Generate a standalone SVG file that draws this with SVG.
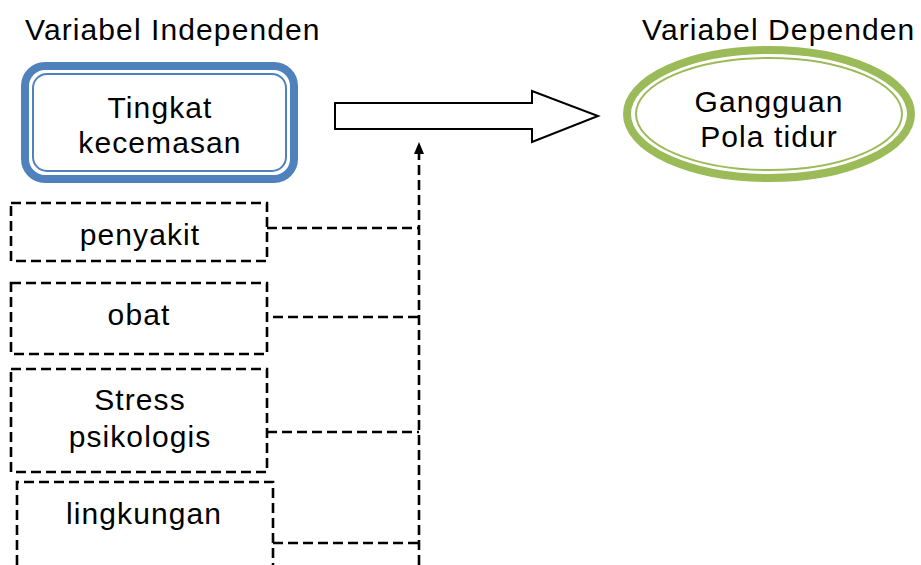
<svg xmlns="http://www.w3.org/2000/svg" width="921" height="565" viewBox="0 0 921 565">
<defs>
<style>
text{font-family:"Liberation Sans",Arial,sans-serif;font-size:30px;letter-spacing:1.1px;fill:#000;text-anchor:middle}
.title{text-anchor:start}
.dash{fill:none;stroke:#000;stroke-width:2.6;stroke-dasharray:10,5}
</style>
</defs>
<rect width="921" height="565" fill="#fff"/>
<text class="title" x="25" y="40">Variabel Independen</text>
<text class="title" x="642" y="40">Variabel Dependen</text>
<g id="tingkat">
<rect x="25" y="66" width="269" height="113" rx="20" fill="#fff" stroke="#4f81bd" stroke-width="8"/>
<rect x="33" y="74" width="253" height="97" rx="14" fill="none" stroke="#4f81bd" stroke-width="2"/>
<text x="160" y="118">Tingkat</text>
<text x="160" y="153">kecemasan</text>
</g>
<g id="gangguan">
<ellipse cx="769" cy="114" rx="142" ry="64" fill="#fff" stroke="#9bbb59" stroke-width="8"/>
<ellipse cx="769" cy="114" rx="133" ry="56" fill="none" stroke="#9bbb59" stroke-width="2"/>
<text x="769" y="112">Gangguan</text>
<text x="769" y="147">Pola tidur</text>
</g>
<g id="penyakit">
<rect class="dash" x="11" y="203" width="256" height="58"/>
<text x="140" y="245">penyakit</text>
</g>
<g id="obat">
<rect class="dash" x="11" y="283" width="256" height="71"/>
<text x="139" y="325">obat</text>
</g>
<g id="stress">
<rect class="dash" x="11" y="369" width="256" height="103"/>
<text x="140" y="410">Stress</text>
<text x="140" y="447">psikologis</text>
</g>
<g id="lingkungan">
<path class="dash" d="M17,580 V482 H273 V580"/>
<text x="144" y="524">lingkungan</text>
</g>
<g id="connectors">
<path d="M335,103 H532 V91 L598,116 L532,142 V129 H335 Z" fill="#fff" stroke="#000" stroke-width="2"/>
<path class="dash" d="M419,565 V153"/>
<polygon points="419,142 424,154 414,154" fill="#000"/>
<path class="dash" d="M267,228 H419"/>
<path class="dash" d="M273,317 H419"/>
<path class="dash" d="M267,432 H419"/>
<path class="dash" d="M273,543 H419"/>
</g>
</svg>
